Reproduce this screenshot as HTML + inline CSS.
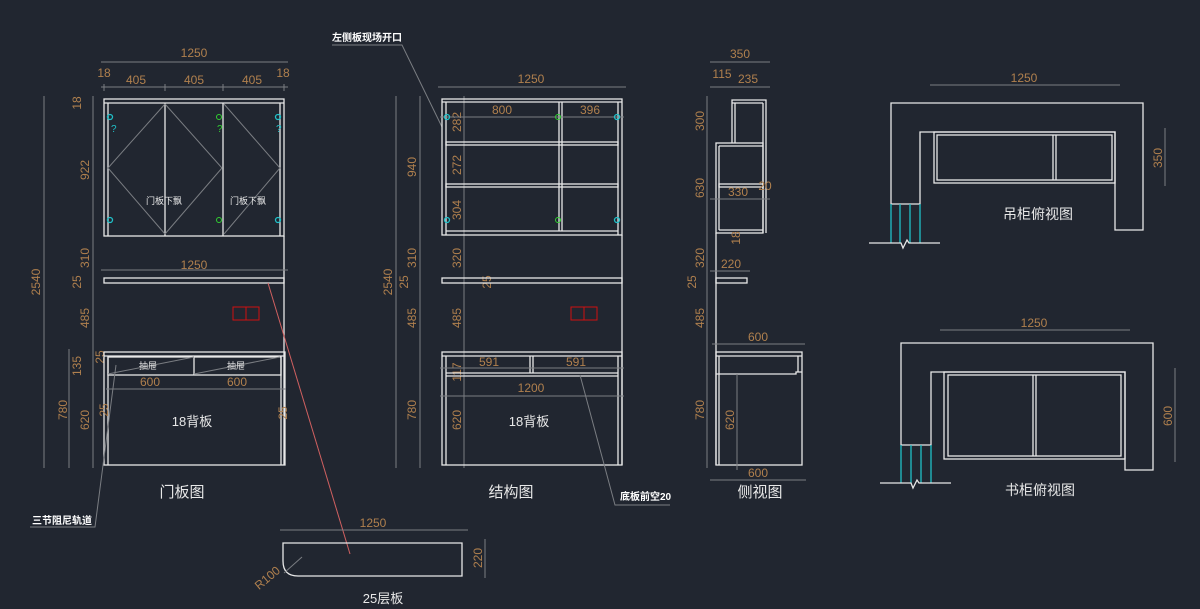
<!DOCTYPE html>
<html><head><meta charset="utf-8"><style>
html,body{margin:0;padding:0;background:#212630;}
svg{display:block}
.w{stroke:#e8e8e8;stroke-width:1.3;fill:none}
.g{stroke:#7a7d82;stroke-width:1;fill:none}
.d{fill:#b0804e;font-family:"Liberation Sans",sans-serif;font-size:12px;text-anchor:middle}
.t{fill:#e8e8e8;font-family:"Liberation Sans","Noto Sans CJK SC",sans-serif;text-anchor:middle}
.b{fill:#fff;font-family:"Liberation Sans","Noto Sans CJK SC",sans-serif;font-size:10px;font-weight:bold}
.c{stroke:#20c0c8;stroke-width:1.3;fill:none}
</style></head><body>
<svg width="1200" height="609" viewBox="0 0 1200 609" xmlns="http://www.w3.org/2000/svg">
<g>
<line class="g" x1="101" y1="62" x2="288" y2="62"/><text class="d" x="194" y="57">1250</text>
<line class="g" x1="101" y1="87" x2="288" y2="87"/>
<text class="d" x="104" y="77">18</text><text class="d" x="136" y="84">405</text><text class="d" x="194" y="84">405</text><text class="d" x="252" y="84">405</text><text class="d" x="283" y="77">18</text>
<line class="g" x1="104" y1="84" x2="104" y2="91"/><line class="g" x1="165" y1="84" x2="165" y2="91"/><line class="g" x1="223" y1="84" x2="223" y2="91"/><line class="g" x1="284" y1="84" x2="284" y2="91"/>
<line class="g" x1="44" y1="96" x2="44" y2="468"/><text class="d" transform="translate(40,282) rotate(-90)">2540</text>
<line class="g" x1="93" y1="96" x2="93" y2="468"/>
<text class="d" transform="translate(81,103) rotate(-90)">18</text>
<text class="d" transform="translate(89,170) rotate(-90)">922</text>
<text class="d" transform="translate(89,258) rotate(-90)">310</text>
<text class="d" transform="translate(81,282) rotate(-90)">25</text>
<text class="d" transform="translate(89,318) rotate(-90)">485</text>
<line class="g" x1="69" y1="349" x2="69" y2="468"/>
<text class="d" transform="translate(81,366) rotate(-90)">135</text>
<text class="d" transform="translate(67,410) rotate(-90)">780</text>
<text class="d" transform="translate(89,420) rotate(-90)">620</text>
<text class="d" transform="translate(104,357) rotate(-90)">25</text>
<rect class="w" x="104" y="99" width="180" height="137"/>
<line class="w" x1="104" y1="103" x2="284" y2="103"/>
<line class="w" x1="108" y1="103" x2="108" y2="236"/><line class="w" x1="280" y1="103" x2="280" y2="236"/>
<line class="w" x1="165" y1="103" x2="165" y2="236"/><line class="w" x1="223" y1="103" x2="223" y2="236"/>
<polyline class="g" points="165,104 108,168 165,234"/><polyline class="g" points="165,104 222,168 165,234"/><polyline class="g" points="224,104 280,168 224,234"/>
<line class="w" x1="284" y1="236" x2="284" y2="465"/>
<circle cx="110" cy="117" r="2.5" class="c"/><circle cx="110" cy="220" r="2.5" class="c"/><circle cx="278" cy="117" r="2.5" class="c"/><circle cx="278" cy="220" r="2.5" class="c"/>
<circle cx="219" cy="117" r="2.5" stroke="#30d030" fill="none"/><circle cx="219" cy="220" r="2.5" stroke="#30d030" fill="none"/>
<text x="111" y="132" fill="#20c0c8" font-size="10" font-family="Liberation Sans">?</text><text x="217" y="132" fill="#30d030" font-size="10" font-family="Liberation Sans">?</text><text x="276" y="132" fill="#20c0c8" font-size="10" font-family="Liberation Sans">?</text>
<text class="t" x="164" y="204" font-size="9">门板下飘</text><text class="t" x="248" y="204" font-size="9">门板下飘</text>
<line class="g" x1="101" y1="270" x2="288" y2="270"/><text class="d" x="194" y="269">1250</text>
<rect class="w" x="104" y="278" width="180" height="5"/>
<rect x="233" y="307" width="13" height="13" fill="none" stroke="#d01010"/><rect x="246" y="307" width="13" height="13" fill="none" stroke="#d01010"/>
<rect class="w" x="104" y="352" width="181" height="113"/>
<line class="w" x1="108" y1="356" x2="108" y2="465"/><line class="w" x1="281" y1="356" x2="281" y2="465"/>
<line class="w" x1="104" y1="356" x2="285" y2="356"/>
<rect class="w" x="108" y="357" width="173" height="18"/><line class="w" x1="194" y1="357" x2="194" y2="375"/>
<line class="g" x1="108" y1="374" x2="194" y2="357"/><line class="g" x1="194" y1="374" x2="280" y2="357"/>
<text class="t" x="148" y="369" font-size="9">抽屉</text><text class="t" x="236" y="369" font-size="9">抽屉</text>
<line class="g" x1="106" y1="389" x2="286" y2="389"/><text class="d" x="150" y="386">600</text><text class="d" x="237" y="386">600</text>
<text class="d" transform="translate(108,410) rotate(-90)">25</text><text class="d" transform="translate(287,413) rotate(-90)">25</text>
<text class="t" x="192" y="426" font-size="13">18背板</text>
<text class="t" x="182" y="497" font-size="15">门板图</text>
<polyline class="g" points="116,365 95,527 30,527"/>
<text class="b" x="32" y="524">三节阻尼轨道</text>
<line x1="268" y1="283" x2="350" y2="554" stroke="#d06060" stroke-width="1"/>
</g>
<g>
<line class="g" x1="438" y1="87" x2="626" y2="87"/><text class="d" x="531" y="83">1250</text>
<polyline class="g" points="332,45 402,45 442,127"/>
<text class="b" x="332" y="41">左侧板现场开口</text>
<line class="g" x1="396" y1="96" x2="396" y2="468"/><text class="d" transform="translate(392,282) rotate(-90)">2540</text>
<line class="g" x1="420" y1="96" x2="420" y2="468"/>
<text class="d" transform="translate(416,167) rotate(-90)">940</text>
<text class="d" transform="translate(416,258) rotate(-90)">310</text>
<text class="d" transform="translate(408,282) rotate(-90)">25</text>
<text class="d" transform="translate(416,318) rotate(-90)">485</text>
<text class="d" transform="translate(416,410) rotate(-90)">780</text>
<line class="g" x1="464" y1="96" x2="464" y2="468"/>
<text class="d" transform="translate(461,122) rotate(-90)">282</text>
<text class="d" transform="translate(461,165) rotate(-90)">272</text>
<text class="d" transform="translate(461,210) rotate(-90)">304</text>
<text class="d" transform="translate(461,258) rotate(-90)">320</text>
<text class="d" transform="translate(491,282) rotate(-90)">25</text>
<text class="d" transform="translate(461,318) rotate(-90)">485</text>
<text class="d" transform="translate(461,372) rotate(-90)">117</text>
<text class="d" transform="translate(461,420) rotate(-90)">620</text>
<rect class="w" x="442" y="99" width="180" height="136"/>
<line class="w" x1="446" y1="102" x2="446" y2="235"/><line class="w" x1="618" y1="102" x2="618" y2="235"/>
<line class="w" x1="442" y1="102" x2="622" y2="102"/><line class="w" x1="446" y1="231" x2="618" y2="231"/>
<line class="w" x1="559" y1="102" x2="559" y2="231"/><line class="w" x1="562" y1="102" x2="562" y2="231"/>
<rect class="w" x="446" y="142" width="172" height="3"/><rect class="w" x="446" y="184" width="172" height="3"/>
<line class="g" x1="440" y1="117" x2="624" y2="117"/><text class="d" x="502" y="114">800</text><text class="d" x="590" y="114">396</text>
<circle cx="447" cy="117" r="2.5" class="c"/><circle cx="617" cy="117" r="2.5" class="c"/><circle cx="447" cy="220" r="2.5" class="c"/><circle cx="617" cy="220" r="2.5" class="c"/>
<circle cx="558" cy="117" r="2.5" stroke="#30d030" fill="none"/><circle cx="558" cy="220" r="2.5" stroke="#30d030" fill="none"/>
<line class="w" x1="622" y1="235" x2="622" y2="465"/>
<rect class="w" x="442" y="278" width="180" height="5"/>
<rect x="571" y="307" width="13" height="13" fill="none" stroke="#d01010"/><rect x="584" y="307" width="13" height="13" fill="none" stroke="#d01010"/>
<rect class="w" x="442" y="352" width="180" height="113"/>
<line class="w" x1="446" y1="356" x2="446" y2="465"/><line class="w" x1="618" y1="356" x2="618" y2="465"/>
<line class="w" x1="442" y1="356" x2="622" y2="356"/>
<line class="w" x1="446" y1="373" x2="618" y2="373"/><line class="w" x1="446" y1="376" x2="618" y2="376"/>
<line class="w" x1="530" y1="356" x2="530" y2="373"/><line class="w" x1="533" y1="356" x2="533" y2="373"/>
<line class="g" x1="440" y1="368" x2="624" y2="368"/><text class="d" x="489" y="366">591</text><text class="d" x="576" y="366">591</text>
<line class="g" x1="440" y1="396" x2="624" y2="396"/><text class="d" x="531" y="392">1200</text>
<text class="t" x="529" y="426" font-size="13">18背板</text>
<text class="t" x="511" y="497" font-size="15">结构图</text>
<polyline class="g" points="580,375 615,505 670,505"/>
<text class="b" x="620" y="500">底板前空20</text>
</g>
<g>
<line class="g" x1="710" y1="62" x2="770" y2="62"/><text class="d" x="740" y="58">350</text>
<line class="g" x1="710" y1="87" x2="770" y2="87"/><text class="d" x="722" y="78">115</text><text class="d" x="748" y="83">235</text>
<line class="g" x1="707" y1="96" x2="707" y2="468"/>
<text class="d" transform="translate(704,121) rotate(-90)">300</text>
<text class="d" transform="translate(704,188) rotate(-90)">630</text>
<text class="d" transform="translate(704,258) rotate(-90)">320</text>
<text class="d" transform="translate(696,282) rotate(-90)">25</text>
<text class="d" transform="translate(704,318) rotate(-90)">485</text>
<text class="d" transform="translate(704,410) rotate(-90)">780</text>
<polyline class="w" points="732,143 732,100 766,100 766,233"/>
<line class="w" x1="735" y1="103" x2="735" y2="143"/><line class="w" x1="732" y1="103" x2="763" y2="103"/>
<line class="w" x1="763" y1="103" x2="763" y2="233"/>
<rect class="w" x="716" y="143" width="47" height="90"/>
<line class="w" x1="719" y1="146" x2="719" y2="230"/><line class="w" x1="719" y1="146" x2="763" y2="146"/><line class="w" x1="719" y1="230" x2="763" y2="230"/>
<rect class="w" x="719" y="184" width="44" height="3"/>
<line class="g" x1="710" y1="199" x2="770" y2="199"/><text class="d" x="738" y="196">330</text><text class="d" x="765" y="190">20</text>
<text class="d" transform="translate(740,238) rotate(-90)">18</text>
<line class="w" x1="716" y1="233" x2="716" y2="465"/>
<line class="g" x1="710" y1="271" x2="750" y2="271"/><text class="d" x="731" y="268">220</text>
<rect class="w" x="716" y="278" width="31" height="5"/>
<line class="g" x1="712" y1="344" x2="805" y2="344"/><text class="d" x="758" y="341">600</text>
<rect class="w" x="716" y="352" width="86" height="113"/>
<line class="w" x1="716" y1="356" x2="802" y2="356"/><line class="w" x1="719" y1="356" x2="719" y2="465"/>
<polyline class="w" points="716,374 796,374 796,372 802,372"/><line class="w" x1="798" y1="356" x2="798" y2="372"/>
<line class="g" x1="737" y1="374" x2="737" y2="470"/><text class="d" transform="translate(734,420) rotate(-90)">620</text>
<line class="g" x1="710" y1="480" x2="806" y2="480"/><text class="d" x="758" y="477">600</text>
<text class="t" x="760" y="497" font-size="15">侧视图</text>
</g>
<g>
<line class="g" x1="930" y1="85" x2="1120" y2="85"/><text class="d" x="1024" y="82">1250</text>
<polygon class="w" points="891,103 1143,103 1143,230 1115,230 1115,132 920,132 920,204 891,204"/>
<rect class="w" x="934" y="132" width="181" height="51"/>
<rect class="w" x="937" y="135" width="175" height="45"/>
<line class="w" x1="1053" y1="135" x2="1053" y2="180"/><line class="w" x1="1056" y1="135" x2="1056" y2="180"/>
<line class="g" x1="1165" y1="128" x2="1165" y2="186"/><text class="d" transform="translate(1162,158) rotate(-90)">350</text>
<line class="c" x1="891" y1="204" x2="891" y2="243"/><line class="c" x1="900" y1="204" x2="900" y2="243"/><line class="c" x1="910" y1="204" x2="910" y2="243"/><line class="c" x1="920" y1="204" x2="920" y2="243"/>
<polyline class="w" points="869,243 901,243 903,248 907,240 909,243 940,243"/>
<text class="t" x="1038" y="219" font-size="14">吊柜俯视图</text>
</g>
<g>
<line class="g" x1="940" y1="330" x2="1130" y2="330"/><text class="d" x="1034" y="327">1250</text>
<polygon class="w" points="901,343 1153,343 1153,470 1125,470 1125,372 931,372 931,445 901,445"/>
<rect class="w" x="944" y="372" width="181" height="87"/>
<rect class="w" x="948" y="375" width="173" height="81"/>
<line class="w" x1="1033" y1="375" x2="1033" y2="456"/><line class="w" x1="1036" y1="375" x2="1036" y2="456"/>
<line class="g" x1="1175" y1="368" x2="1175" y2="462"/><text class="d" transform="translate(1172,416) rotate(-90)">600</text>
<line class="c" x1="901" y1="445" x2="901" y2="483"/><line class="c" x1="911" y1="445" x2="911" y2="483"/><line class="c" x1="921" y1="445" x2="921" y2="483"/><line class="c" x1="931" y1="445" x2="931" y2="483"/>
<polyline class="w" points="880,483 911,483 913,488 917,480 919,483 951,483"/>
<text class="t" x="1040" y="495" font-size="14">书柜俯视图</text>
</g>
<g>
<line class="g" x1="280" y1="530" x2="468" y2="530"/><text class="d" x="373" y="527">1250</text>
<path class="w" d="M283,543 L462,543 L462,576 L298,576 Q283,576 283,561 Z"/>
<line class="g" x1="284" y1="573" x2="302" y2="557"/>
<text class="d" transform="translate(270,581) rotate(-40)">R100</text>
<line class="g" x1="485" y1="539" x2="485" y2="578"/><text class="d" transform="translate(482,558) rotate(-90)">220</text>
<text class="t" x="383" y="603" font-size="13">25层板</text>
</g>
</svg>
</body></html>
